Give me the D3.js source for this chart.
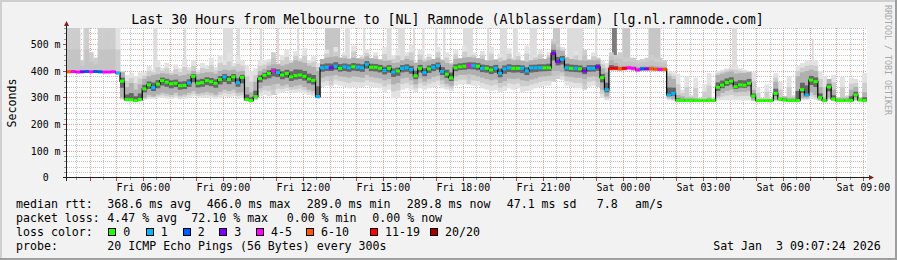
<!DOCTYPE html>
<html><head><meta charset="utf-8">
<script src="https://cdn.jsdelivr.net/npm/d3@7"></script>
<style>
html,body{margin:0;padding:0;background:#f2f2f2;}
svg{display:block;}
text{font-family:"DejaVu Sans Mono",monospace;white-space:pre;fill:#000;}
</style></head><body>
<svg id="c" width="897" height="260"></svg>
<script>
// ---------------- data ----------------
const title = "Last 30 Hours from Melbourne to [NL] Ramnode (Alblasserdam) [lg.nl.ramnode.com]";
const startTime = "2026-01-02T03:07:24Z";
const endTime = "2026-01-03T09:07:24Z";
const stepMinutes = 10;
const yTicks = [0, 100, 200, 300, 400, 500];
const yTickLabels = ["0  ", "100 m", "200 m", "300 m", "400 m", "500 m"];
const xTickTimes = ["2026-01-02T06:00:00Z","2026-01-02T09:00:00Z","2026-01-02T12:00:00Z","2026-01-02T15:00:00Z","2026-01-02T18:00:00Z","2026-01-02T21:00:00Z","2026-01-03T00:00:00Z","2026-01-03T03:00:00Z","2026-01-03T06:00:00Z","2026-01-03T09:00:00Z"];
const xTickLabels = ["Fri 06:00","Fri 09:00","Fri 12:00","Fri 15:00","Fri 18:00","Fri 21:00","Sat 00:00","Sat 03:00","Sat 06:00","Sat 09:00"];

// median rtt (ms), one value per 10 minutes
const median = [397,398,396,397,398,397,398,397,396,396,397,392,
362,293,292,289,293,
333,348,338,351,364,358,352,354,345,346,355,380,354,356,364,360,354,368,378,368,378,356,376,
293,289,304,372,384,
391,400,394,385,391,378,383,385,380,370,365,304,
412,414,412,418,410,415,412,416,414,412,425,414,414,410,402,410,396,400,410,412,406,382,410,394,408,414,420,398,388,374,412,416,418,420,420,
418,410,410,404,410,391,408,412,410,410,410,400,412,412,412,412,412,466,435,444,412,410,410,408,400,410,410,416,
375,330,
410,410,408,410,412,410,404,408,408,408,407,406,406,
310,316,289,
289,289,289,289,289,289,289,289,
339,347,357,362,341,348,347,354,
306,289,289,289,289,
316,295,291,289,289,289,
330,310,366,360,300,
289,340,295,289,289,289,289,310,291,289];

// lost pings out of 20
const loss = [6,4,4,3,2,4,2,2,4,4,4,1,
0,0,0,0,0,
0,0,1,0,0,0,0,0,0,0,1,0,0,0,0,0,0,0,1,0,0,1,0,
0,0,0,0,0,
0,4,1,0,0,0,0,0,0,0,0,1,
1,1,3,1,0,1,1,0,1,1,1,0,0,0,1,0,1,0,1,1,1,0,0,1,0,1,1,1,0,0,0,0,0,4,1,
0,1,0,0,1,1,1,1,0,0,1,1,1,1,1,0,0,3,3,1,1,0,1,0,3,1,1,3,
0,1,
12,12,7,12,5,5,5,2,3,7,7,5,7,
1,1,0,
0,0,0,0,0,0,0,0,
0,0,0,0,0,0,0,0,
0,0,0,0,0,
0,0,0,0,0,0,
0,1,0,0,0,
0,0,0,0,0,0,0,0,0,0];

// smoke: highest ping, lowest ping, upper / lower edge of the dense smoke (ms)
const smokeHi = [562,562,562,440,562,470,450,562,562,562,562,562,
400,
385,392,380,395,
395,420,405,440,410,430,400,425,410,445,415,440,405,430,420,450,415,460,440,470,430,455,440,
420,400,410,
440,440,
445,470,430,460,480,440,475,450,485,440,455,430,
430,480,445,490,435,470,450,495,440,460,480,435,470,445,490,430,460,485,440,470,500,435,480,450,465,430,490,445,470,435,480,440,495,450,470,
440,475,435,490,445,465,430,485,450,470,440,495,435,460,480,445,470,520,500,490,455,440,475,435,480,445,470,450,
440,430,
470,460,470,450,450,450,440,445,450,460,450,450,440,
400,395,
390,330,380,310,375,300,350,392,300,
400,405,410,415,420,410,405,400,
395,
340,300,350,300,
392,
360,300,380,310,420,
430,440,440,440,400,
380,300,385,300,378,310,375,370,300,392];

const smokeLo = [394,394,394,394,394,394,394,394,394,394,394,394,
292,
288,288,288,288,
292,295,296,298,300,296,295,298,294,296,300,305,298,300,300,298,296,300,305,302,305,296,300,
288,287,290,
305,310,
305,310,315,320,325,320,318,320,315,310,305,295,
340,345,345,350,345,340,335,340,338,340,345,340,338,335,320,330,297,300,330,335,330,320,335,330,335,340,345,335,330,325,345,350,350,350,345,
345,335,330,325,330,320,325,335,330,335,320,325,330,335,340,345,345,360,370,365,345,340,335,335,330,340,345,340,
300,290,
400,402,400,402,404,400,398,400,402,400,400,400,398,
290,288,
288,288,288,288,288,288,288,288,288,
290,290,290,290,290,290,290,290,
288,
288,288,288,288,
288,
288,288,288,288,288,
290,290,295,292,288,
288,290,288,288,288,288,288,288,288,288];

const smokeUp = [400,400,400,400,400,400,400,400,400,400,400,400,
395,
340,355,330,350,
370,380,385,388,392,390,385,388,382,385,390,400,388,392,395,395,390,400,405,402,405,398,400,
340,320,360,
400,408,
420,425,425,420,425,430,440,435,430,420,415,400,
445,450,452,455,450,448,445,450,448,445,455,448,445,442,438,440,430,432,440,445,440,430,442,435,440,445,450,440,430,425,445,448,450,452,450,
448,445,440,440,442,435,440,445,440,442,438,435,440,442,445,445,450,500,480,475,450,445,442,440,438,440,440,440,
410,395,
440,430,420,420,420,418,415,418,418,420,418,416,415,
380,370,
310,305,300,300,298,296,295,300,295,
385,390,395,398,390,392,392,395,
330,
295,295,295,295,
360,
300,305,300,300,380,
395,400,405,400,340,
300,370,330,300,300,300,330,340,300,320];

const smokeDn = [394,394,394,394,394,394,394,394,394,394,394,394,
300,
289,289,289,289,
300,310,305,312,318,315,310,318,308,312,318,325,315,318,322,318,312,322,330,325,330,318,320,
289,288,295,
335,345,
345,350,352,345,350,340,345,348,340,330,325,300,
375,380,382,385,380,378,375,380,378,375,385,378,375,372,365,370,350,355,372,375,365,350,372,360,370,378,382,365,352,345,380,385,385,388,385,
380,375,370,365,368,355,362,372,370,372,365,362,368,372,378,380,382,400,400,395,380,378,375,375,370,378,380,378,
330,305,
405,405,404,405,406,404,400,404,404,404,402,402,400,
300,295,
288,288,288,288,288,288,288,288,288,
305,318,325,330,320,322,322,325,
290,
288,288,288,288,
292,
288,288,288,288,292,
300,300,320,310,290,
288,300,290,288,288,288,290,292,288,288];

// single high outliers: [minutes after start, duration (min), top (ms), density 0-2]
const spikes = [[37,8,562,0],[195,9,562,0],[264,5,562,0],[352,22,562,0],[383,7,562,0],[435,5,562,0],
[473,5,562,0],[518,5,562,0],[581,34,562,1],[626,11,562,0],[667,5,562,0],[720,11,562,0],[745,16,562,0],
[779,5,562,0],[800,5,562,0],[829,5,562,0],[847,5,562,0],[892,22,562,0],[946,5,562,0],[975,16,562,0],
[1004,11,562,0],[1042,16,562,0],[1094,16,562,1],[1126,36,562,0],[1189,5,562,0],[1227,11,562,2],
[1250,18,562,1],[1309,27,562,1],[1497,11,562,0],[1677,4,522,0]];

const lossBins = ["0","1","2","3","4-5","6-10","11-19","20/20"];
const lossColors = ["#26ff00","#00b8ff","#0059ff","#7e00ff","#ff00ff","#ff5500","#ff0000","#a10000"];
const rttStats = ["median rtt:","368.6 ms avg","466.0 ms max","289.0 ms min","289.8 ms now","47.1 ms sd","7.8","am/s"];
const lossStats = ["packet loss:","4.47 % avg","72.10 % max","0.00 % min","0.00 % now"];
const probeText = ["probe:","20 ICMP Echo Pings (56 Bytes) every 300s"];
const stamp = "Sat Jan  3 09:07:24 2026";
const yLabel = "Seconds";
const watermark = "RRDTOOL / TOBI OETIKER";

// ---------------- drawing ----------------
const svg = d3.select("#c");
const W = 897, H = 260;
const t0 = new Date(startTime), t1 = new Date(endTime);
const x = d3.scaleUtc().domain([t0, t1]).range([66.67, 866.67]);
const y = d3.scaleLinear().domain([0, 562.5]).range([177.67, 27.67]);
const px = v => Math.floor(v) + 0.5;

// background and border
svg.append("rect").attr("width", W).attr("height", H).attr("fill", "#f2f2f2");
svg.append("rect").attr("x",0).attr("y",0).attr("width",W).attr("height",2).attr("fill","#cfcfcf");
svg.append("rect").attr("x",0).attr("y",0).attr("width",2).attr("height",H).attr("fill","#cfcfcf");
svg.append("rect").attr("x",0).attr("y",H-2).attr("width",W).attr("height",2).attr("fill","#9e9e9e");
svg.append("rect").attr("x",W-2).attr("y",0).attr("width",2).attr("height",H).attr("fill","#9e9e9e");

// canvas
svg.append("defs").append("clipPath").attr("id","clip").append("rect")
  .attr("x",67).attr("y",28).attr("width",800).attr("height",150);
svg.append("rect").attr("x",67).attr("y",28).attr("width",800).attr("height",150).attr("fill","#fff");

// grid
const grid = svg.append("g").attr("clip-path","url(#clip)");
const hMinor = d3.range(0, 561, 20).filter(v => v % 100 !== 0);
const hMajor = d3.range(0, 561, 100);
const vMinor = d3.utcMinute.every(30).range(t0, t1).filter(d => d.getUTCMinutes() === 30);
const vMajor = d3.utcHour.range(t0, t1);
grid.selectAll("line.hm").data(hMinor).join("line")
  .attr("x1",67).attr("x2",867).attr("y1",d=>px(y(d))).attr("y2",d=>px(y(d)))
  .attr("stroke","#c4c4c4").attr("stroke-dasharray","1,1");
grid.selectAll("line.vm").data(vMinor).join("line")
  .attr("y1",28).attr("y2",178).attr("x1",d=>px(x(d))).attr("x2",d=>px(x(d)))
  .attr("stroke","#c4c4c4").attr("stroke-dasharray","1,1");
grid.selectAll("line.hM").data(hMajor).join("line")
  .attr("x1",67).attr("x2",867).attr("y1",d=>px(y(d))).attr("y2",d=>px(y(d)))
  .attr("stroke","#eba0a0").attr("stroke-dasharray","1,1");
grid.selectAll("line.vM").data(vMajor).join("line")
  .attr("y1",28).attr("y2",178).attr("x1",d=>px(x(d))).attr("x2",d=>px(x(d)))
  .attr("stroke","#eba0a0").attr("stroke-dasharray","1,1");

// rows
const stepMs = stepMinutes * 60000;
const rows = median.map((m, i) => ({
  i, m, l: loss[i], hi: smokeHi[i], lo: smokeLo[i], up: smokeUp[i], dn: smokeDn[i],
  a: new Date(+t0 + i * stepMs), b: new Date(+t0 + (i + 1) * stepMs)
}));
const bin = l => l <= 3 ? l : l <= 5 ? 4 : l <= 10 ? 5 : l <= 19 ? 6 : 7;
const medAt = t => median[Math.min(median.length - 1, Math.floor((t - t0) / stepMs))];

const sm = svg.append("g").attr("clip-path","url(#clip)");
// outlier spikes
const spikeShade = ["#dcdcdc", "#c6c6c6", "#7c7c7c"];
sm.selectAll("rect.spike").data(spikes).join("rect").attr("class","spike")
  .attr("x", d => x(new Date(+t0 + d[0] * 60000)))
  .attr("width", d => x(new Date(+t0 + (d[0] + d[1]) * 60000)) - x(new Date(+t0 + d[0] * 60000)))
  .attr("y", d => y(d[2]))
  .attr("height", d => y(medAt(new Date(+t0 + d[0] * 60000))) - y(d[2]))
  .attr("fill", d => spikeShade[d[3]]);

function band(cls, lowF, highF, color) {
  sm.selectAll("rect." + cls).data(rows).join("rect").attr("class", cls)
    .attr("x", d => x(d.a)).attr("width", d => x(d.b) - x(d.a) + 0.4)
    .attr("y", d => y(highF(d))).attr("height", d => Math.max(0, y(lowF(d)) - y(highF(d))))
    .attr("fill", color);
}
// shading from sparse (outer) to dense (near the median)
band("light", d => d.lo, d => d.hi, d => d.l >= 2 ? "#cdcdcd" : "#e2e2e2");
band("soft", d => (d.lo + Math.min(d.dn, d.m)) / 2, d => (d.hi + Math.max(d.up, d.m)) / 2, d => d.l >= 2 ? "#c4c4c4" : "#cdcdcd");
band("mid", d => Math.min(d.dn, d.m), d => Math.max(d.up, d.m), "#b0b0b0");
band("core", d => d.m - Math.max(0, d.m - d.dn) * 0.4, d => d.m + Math.max(0, d.up - d.m) * 0.4, "#666666");

// median: black step line + loss-coloured segments
const lineData = rows.map(d => [d.a, d.m]).concat([[t1, median[median.length - 1]]]);
sm.append("path").datum(lineData)
  .attr("d", d3.line().x(d => x(d[0])).y(d => y(d[1])).curve(d3.curveStepAfter))
  .attr("fill","none").attr("stroke","#000").attr("stroke-width",1.2);
sm.selectAll("rect.med").data(rows).join("rect").attr("class","med")
  .attr("x", d => x(d.a)).attr("width", d => x(d.b) - x(d.a))
  .attr("y", d => y(d.m) - 1.5).attr("height", 3)
  .attr("fill", d => lossColors[bin(d.l)]);

// axes
const ax = svg.append("g");
ax.selectAll("line.yt").data(d3.range(0, 561, 20)).join("line")
  .attr("x1", d => d % 100 === 0 ? 63 : 64).attr("x2", 66)
  .attr("y1", d => px(y(d))).attr("y2", d => px(y(d)))
  .attr("stroke", d => d % 100 === 0 ? "#c04040" : "#999");
ax.selectAll("line.xt").data(vMajor).join("line")
  .attr("y1", 178).attr("y2", 181)
  .attr("x1", d => px(x(d))).attr("x2", d => px(x(d)))
  .attr("stroke", "#c04040");
ax.selectAll("line.xtm").data(vMinor).join("line")
  .attr("y1", 178).attr("y2", 180)
  .attr("x1", d => px(x(d))).attr("x2", d => px(x(d)))
  .attr("stroke", "#999");
ax.append("line").attr("x1",63).attr("x2",869).attr("y1",177.5).attr("y2",177.5).attr("stroke","#1f1f1f");
ax.append("line").attr("x1",66.5).attr("x2",66.5).attr("y1",181).attr("y2",25).attr("stroke","#1f1f1f");
ax.append("path").attr("d","M869,175 L874,177.5 L869,180 Z").attr("fill","#7f1f1f");
ax.append("path").attr("d","M64,26 L66.5,21 L69,26 Z").attr("fill","#7f1f1f");

// tick labels
svg.selectAll("text.yl").data(yTicks).join("text")
  .attr("x", 60.5).attr("y", d => y(d) + 3.6)
  .attr("text-anchor","end").attr("font-size","9.9px")
  .text((d, i) => yTickLabels[i]);
svg.selectAll("text.xl").data(xTickTimes).join("text")
  .attr("x", d => x(new Date(d))).attr("y", 190.5)
  .attr("text-anchor","middle").attr("font-size","9.9px")
  .text((d, i) => xTickLabels[i]);

// title, axis title, watermark
svg.append("text").attr("x",447.5).attr("y",23.5).attr("text-anchor","middle")
  .attr("font-size","13.3px").text(title);
svg.append("text").attr("transform","translate(15.5,103) rotate(-90)")
  .attr("text-anchor","middle").attr("font-size","11.6px").text(yLabel);
svg.append("text").attr("transform","translate(884.5,5) rotate(90)")
  .attr("font-size","8.3px").style("fill","#a8a8a8").text(watermark);

// legend
const fs = "11.6px";
const rttX = [16, 107.3, 206.7, 306.7, 406.7, 506.7, 596.7, 635];
rttStats.forEach((s, i) => svg.append("text").attr("x", rttX[i]).attr("y", 208).attr("font-size", fs).text(s));
const lossX = [16, 107.3, 191.3, 286.7, 372.3];
lossStats.forEach((s, i) => svg.append("text").attr("x", lossX[i]).attr("y", 222).attr("font-size", fs).text(s));
svg.append("text").attr("x",16).attr("y",236).attr("font-size",fs).text("loss color:");
const swX = [108.3, 145.7, 182.7, 219.3, 256, 306, 370, 430];
const sw = svg.append("g").selectAll("g").data(lossBins).join("g");
sw.append("rect").attr("x",(d,i)=>Math.round(swX[i])+0.5).attr("y",228.5).attr("width",7).attr("height",7)
  .attr("fill",(d,i)=>lossColors[i]).attr("stroke","#000");
sw.append("text").attr("x",(d,i)=>swX[i]+15).attr("y",236).attr("font-size",fs).text(d=>d);
svg.append("text").attr("x",16).attr("y",250).attr("font-size",fs).text(probeText[0]);
svg.append("text").attr("x",107.3).attr("y",250).attr("font-size",fs).text(probeText[1]);
svg.append("text").attr("x",880.7).attr("y",250).attr("text-anchor","end").attr("font-size",fs).text(stamp);
</script>
</body></html>
